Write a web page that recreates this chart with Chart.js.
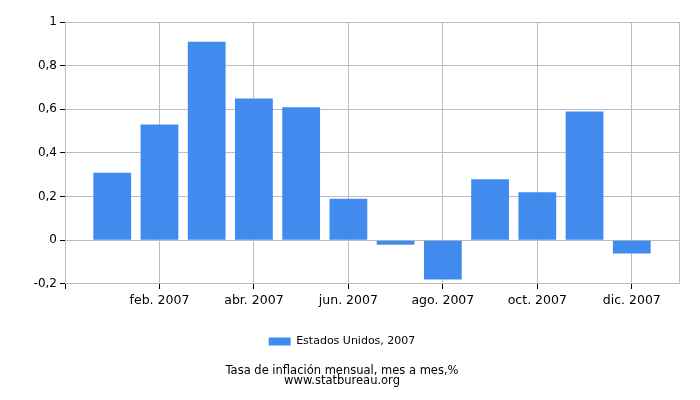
<!DOCTYPE html>
<html>
<head>
<meta charset="utf-8">
<script src="https://cdn.jsdelivr.net/npm/chart.js@4.4.1/dist/chart.umd.min.js"></script>
<style>
  html, body { margin: 0; padding: 0; background: #fff; }
  #wrap { width: 700px; height: 400px; }
</style>
</head>
<body>
<div id="wrap"><canvas id="chart"></canvas></div>
<script>
// Monthly inflation, United States 2007 (month over month, %)
const months = ['ene. 2007', 'feb. 2007', 'mar. 2007', 'abr. 2007', 'may. 2007', 'jun. 2007',
                'jul. 2007', 'ago. 2007', 'sep. 2007', 'oct. 2007', 'nov. 2007', 'dic. 2007'];
const inflation = [0.31, 0.53, 0.91, 0.65, 0.61, 0.19, -0.02, -0.18, 0.28, 0.22, 0.59, -0.06];
const yTicks = [-0.2, 0, 0.2, 0.4, 0.6, 0.8, 1];
const seriesName = 'Estados Unidos, 2007';
const titleLines = ['Tasa de inflación mensual, mes a mes,%', 'www.statbureau.org'];

// empty slot before and after so the bars sit one step in from the frame
const labels = [''].concat(months, ['']);
const values = [null].concat(inflation, [null]);

Chart.defaults.font.family = "'DejaVu Sans', sans-serif";
Chart.defaults.color = '#000';

const gridGray = '#bdbdbd';

new Chart(document.getElementById('chart'), {
  type: 'bar',
  data: {
    labels: labels,
    datasets: [{
      label: seriesName,
      data: values,
      backgroundColor: '#418bee',
      borderWidth: 0,
      barPercentage: 0.8,
      categoryPercentage: 1.0
    }]
  },
  options: {
    responsive: true,
    maintainAspectRatio: false,
    animation: false,
    layout: { padding: { left: 5, right: 21, top: 22, bottom: 0 } },
    plugins: {
      legend: {
        position: 'bottom',
        labels: {
          boxWidth: 22,
          boxHeight: 8,
          padding: 10,
          color: '#000',
          font: { size: 11 }
        }
      },
      title: {
        display: true,
        position: 'bottom',
        text: titleLines,
        color: '#000',
        font: { size: 11.5, weight: 'normal', lineHeight: 0.87 },
        padding: { top: 9, bottom: 14 }
      },
      tooltip: { enabled: false }
    },
    scales: {
      x: {
        offset: false,
        grid: {
          offset: false,
          // grid line every second month, plus the right frame
          color: (c) => (c.index % 2 === 0 || c.index === labels.length - 1) ? gridGray : 'rgba(0,0,0,0)',
          tickColor: (c) => c.index % 2 === 0 ? '#000' : 'rgba(0,0,0,0)',
          tickLength: 5,
          lineWidth: 1
        },
        border: { color: gridGray },
        ticks: {
          autoSkip: false,
          maxRotation: 0,
          minRotation: 0,
          padding: 4,
          color: '#000',
          font: { size: 12.5 },
          callback: function(value, index) {
            return index % 2 === 0 ? labels[index] : '';
          }
        },
        afterFit: (scale) => { scale.height = 42; }
      },
      y: {
        min: yTicks[0],
        max: yTicks[yTicks.length - 1],
        grid: { color: gridGray, tickColor: '#000', tickLength: 5 },
        border: { color: gridGray },
        afterBuildTicks: (scale) => { scale.ticks = yTicks.map(v => ({ value: v })); },
        ticks: {
          padding: 3,
          color: '#000',
          font: { size: 12 },
          callback: (value) => String(Number(value.toFixed(1))).replace('.', ',')
        },
        afterFit: (scale) => { scale.width = 60; }
      }
    }
  }
});
</script>
</body>
</html>
